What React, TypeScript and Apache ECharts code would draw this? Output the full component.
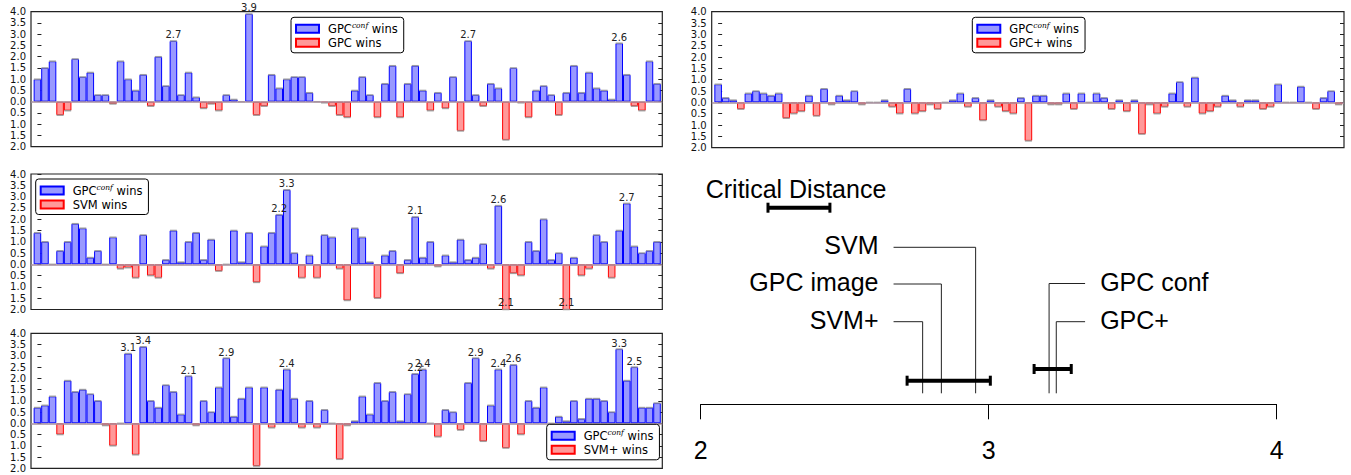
import React, { useEffect, useRef } from "react";
import * as echarts from "echarts";

// Per-dataset differences (positive: GPC^conf wins, negative: competitor wins)
const vsGPC = [1.0,1.5,1.8,-0.6,-0.4,1.9,1.1,1.3,0.3,0.3,-0.1,1.8,1.0,0.5,1.2,-0.2,2.0,0.7,2.7,0.3,1.3,0.2,-0.3,-0.1,-0.4,0.3,0.1,0,3.9,-0.6,-0.2,1.2,0.6,1.0,1.1,1.1,0.4,0,-0.05,-0.2,-0.6,-0.7,0.5,1.1,0.3,-0.7,0.8,1.6,-0.7,0.8,1.6,0.5,-0.4,0.4,-0.3,1.1,-1.3,2.7,0.3,-0.2,0.8,0.6,-1.7,1.5,-0.05,-0.7,0.5,0.7,0.3,-0.6,0.4,1.6,0.4,1.3,0.6,0.5,0.1,2.6,1.2,-0.2,-0.4,1.8,0.8];
const vsSVM = [1.4,1.0,0,0.6,1.0,1.8,1.6,0.3,0.6,0,1.2,-0.2,-0.15,-0.6,1.3,-0.5,-0.6,0.2,1.5,0.1,1.0,1.4,0.2,1.1,-0.3,0,1.5,0.1,1.4,-0.8,0.8,1.4,2.2,3.3,0.5,-0.6,0.4,-0.6,1.3,1.2,-0.2,-1.6,1.6,1.2,0.1,-1.5,0.4,0.6,-0.4,0.2,2.1,0.3,1.0,-0.1,0.4,0.1,1.1,0.2,0.3,0.9,-0.2,2.6,-2.1,-0.4,-0.5,1.0,0.6,2.0,0.2,0.5,-2.1,0.3,-0.5,-0.2,1.3,1.0,-0.6,1.5,2.7,0.8,0.5,0.6,1.0];
const vsSVMplus = [0.7,0.8,1.2,-0.5,1.9,1.4,1.5,1.3,1.0,-0.1,-1.0,0,3.1,-1.4,3.4,1.0,0.7,1.7,1.4,0.4,2.1,-0.1,1.0,0.5,1.6,2.9,0.3,1.1,1.6,-1.9,1.6,-0.2,1.5,2.4,1.1,-0.2,1.0,-0.2,0.6,0,-1.6,-0.1,0.1,1.2,0.4,1.8,1.0,1.4,0.1,1.3,2.2,2.4,0,-0.6,0.6,0.5,-0.3,1.8,2.9,-0.8,0.8,2.4,-1.1,2.6,-0.5,1.0,0.7,1.6,0,0.3,0.1,1.0,0.2,1.1,1.1,1.0,0.5,3.3,1.9,2.5,0.7,0.7,0.9];
const vsGPCplus = [0.8,0.2,0.1,-0.3,0.4,0.5,0.4,0.3,0.4,-0.7,-0.5,-0.4,0.3,-0.6,0.6,-0.1,0.3,0.1,0.5,-0.1,0,0,0.1,-0.2,-0.5,0.6,-0.5,-0.4,-0.1,-0.3,0,0.1,0.4,-0.2,0.2,-0.8,0.1,-0.2,-0.4,-0.5,0.2,-1.7,0.3,0.3,-0.1,-0.1,0.4,-0.3,0.4,0,0.4,0.2,-0.3,0.1,-0.4,0.1,-1.4,-0.1,-0.5,-0.2,0.4,0.9,-0.2,1.1,-0.5,-0.4,-0.2,0.3,0.1,-0.2,0.1,0.1,-0.3,-0.2,0.8,0,0,0.7,0,-0.3,0.2,0.5,-0.1];

const blueName = "GPCconf wins";
const redNames = ["GPC wins", "SVM wins", "SVM+ wins", "GPC+ wins"];
const yTicks = { min: -2, max: 4, step: 0.5 };

// Critical-difference diagram
const cdMethods = ["SVM", "GPC image", "SVM+", "GPC conf", "GPC+"];
const cdRanks = [2.955, 2.836, 2.771, 3.21, 3.235];
const cdSides = ["left", "left", "left", "right", "right"];
const cliques = [[2.717, 3.006], [3.158, 3.287]];
const criticalDistance = [2.234, 2.449];
const rankTicks = [2, 3, 4];

export default function App() {
  const ref = useRef<HTMLDivElement>(null);
  useEffect(() => {
    if (!ref.current) return;
    const chart = echarts.init(ref.current, null, { renderer: "svg" });
    const datasets = [vsGPC, vsSVM, vsSVMplus, vsGPCplus];
    const grids: any[] = [
      { left: 31, top: 11.7, width: 631.3, height: 135 },
      { left: 31, top: 174, width: 631.3, height: 135.5 },
      { left: 31, top: 333.3, width: 631.3, height: 135 },
      { left: 711.7, top: 11.7, width: 632.3, height: 136 },
    ].map((g) => ({ ...g, show: true, borderColor: "#222", borderWidth: 1.2, backgroundColor: "transparent" }));
    grids.push({ left: 700.6, top: 160, width: 576, height: 244.3, show: false });

    const xAxes: any[] = datasets.map((_, g) => ({
      type: "value", gridIndex: g, min: -0.85, max: 82.7, show: false,
    }));
    xAxes.push({
      type: "value", gridIndex: 4, min: rankTicks[0], max: rankTicks[rankTicks.length - 1], interval: 1,
      position: "bottom",
      axisLine: { show: true, onZero: false, lineStyle: { color: "#000", width: 1 } },
      axisTick: { show: true, inside: false, length: 15, lineStyle: { color: "#000", width: 1 } },
      axisLabel: { fontSize: 25, margin: 33, color: "#000", fontFamily: "Liberation Sans" },
      splitLine: { show: false },
    });

    const yAxes: any[] = [];
    datasets.forEach((_, g) => {
      const base = {
        type: "value", gridIndex: g, min: yTicks.min, max: yTicks.max, interval: yTicks.step,
        splitLine: { show: false },
        axisLine: { show: false },
        axisTick: { show: true, inside: true, length: 4, lineStyle: { color: "#222", width: 1 } },
      };
      yAxes.push({
        ...base, position: "left",
        axisLabel: {
          fontSize: 10, fontFamily: "DejaVu Sans", color: "#111", margin: 5,
          formatter: (v: number) => Math.abs(v).toFixed(1),
        },
      });
      yAxes.push({ ...base, position: "right", axisLabel: { show: false } });
    });
    yAxes.push({ type: "value", gridIndex: 4, min: 0, max: 244.3, inverse: true, show: false });

    const series: any[] = [];
    const labelBase = {
      fontSize: 10, fontFamily: "DejaVu Sans", color: "#222", distance: 1,
      formatter: (p: any) => Math.abs(p.value[1]).toFixed(1),
    };
    datasets.forEach((vals, g) => {
      const pos = vals.map((v, i) => ({ v, i })).filter((d) => d.v > 0)
        .map((d) => ({ value: [d.i, d.v], label: { show: d.v > 2 } }));
      const neg = vals.map((v, i) => ({ v, i })).filter((d) => d.v < 0)
        .map((d) => ({ value: [d.i, d.v], label: { show: d.v < -2 } }));
      series.push({
        type: "bar", name: blueName, xAxisIndex: g, yAxisIndex: 2 * g, data: pos,
        barGap: "-100%", barCategoryGap: "0%", silent: true,
        itemStyle: { color: "#9999ff", borderColor: "#0000ff", borderWidth: 1 },
        label: { ...labelBase, show: false, position: "top" },
        markLine: {
          silent: true, symbol: "none", label: { show: false },
          lineStyle: { color: "#a8909f", width: 1.5, type: "solid" },
          data: [{ yAxis: 0 }],
        },
      });
      series.push({
        type: "bar", name: redNames[g], xAxisIndex: g, yAxisIndex: 2 * g, data: neg,
        barGap: "-100%", barCategoryGap: "0%", silent: true,
        itemStyle: { color: "#ff9999", borderColor: "#ff0000", borderWidth: 1 },
        label: { ...labelBase, show: false, position: "insideBottom", distance: 3 },
      });
      series.push({
        type: "scatter", xAxisIndex: g, yAxisIndex: 2 * g, silent: true, z: 3,
        data: vals.map((v, i) => [i, Math.max(yTicks.min, v)]),
        symbol: "rect", symbolSize: [7, 1.5],
        itemStyle: { color: "#9a9a9a", opacity: 0.9 },
      });
    });

    // CD diagram lines
    const bottomY = 233.3;
    const levels = [87.3, 124, 161.7, 123.5, 161.7];
    const leftEnd = 2.67, rightEnd = 3.335;
    cdMethods.forEach((name, k) => {
      const isLeft = cdSides[k] === "left";
      series.push({
        type: "line", xAxisIndex: 4, yAxisIndex: 8, silent: true,
        showSymbol: true, symbol: "circle", symbolSize: 0.1,
        lineStyle: { color: "#222", width: 1 }, itemStyle: { color: "#222" },
        data: [
          {
            value: [isLeft ? leftEnd : rightEnd, levels[k]],
            label: {
              show: true, position: isLeft ? "left" : "right", distance: 15, offset: [0, -2],
              fontSize: 25, fontFamily: "Liberation Sans", color: "#000", formatter: name,
            },
          },
          [cdRanks[k], levels[k]],
          [cdRanks[k], bottomY],
        ],
      });
    });
    const thick = (a: number, b: number, y: number) => ({
      type: "line", xAxisIndex: 4, yAxisIndex: 8, silent: true,
      showSymbol: true, symbol: "rect", symbolSize: [3, 10],
      lineStyle: { color: "#000", width: 4 }, itemStyle: { color: "#000" },
      data: [[a, y], [b, y]],
    });
    series.push(thick(cliques[0][0], cliques[0][1], 220.7));
    series.push(thick(cliques[1][0], cliques[1][1], 209));
    series.push(thick(criticalDistance[0], criticalDistance[1], 47.7));

    const legendPos = [
      { left: 291, top: 17.3 },
      { left: 35.7, top: 179 },
      { left: 546.7, top: 424.3 },
      { left: 972.3, top: 17.3 },
    ];
    const legends = legendPos.map((p, g) => ({
      ...p, orient: "vertical", data: [blueName, redNames[g]], icon: "rect",
      itemWidth: 23, itemHeight: 8, itemGap: 2, padding: [4, 6, 4, 4],
      borderColor: "#000", borderWidth: 1, borderRadius: 3, backgroundColor: "#fff",
      selectedMode: false, z: 10,
      formatter: (n: string) => (n === blueName ? "{g|GPC}{s|conf}{t| wins}" : "{g|" + n + "}"),
      textStyle: {
        fontSize: 11.5, fontFamily: "DejaVu Sans", color: "#000",
        rich: {
          g: { fontSize: 11.5, fontFamily: "DejaVu Sans", color: "#000", padding: [0, 0, 0, 4] },
          t: { fontSize: 11.5, fontFamily: "DejaVu Sans", color: "#000" },
          s: { fontSize: 7.5, fontStyle: "italic", fontFamily: "DejaVu Serif", color: "#000", padding: [0, 0, 7, 0] },
        },
      },
    }));

    chart.setOption({
      animation: false,
      backgroundColor: "#fff",
      grid: grids,
      xAxis: xAxes,
      yAxis: yAxes,
      legend: legends,
      series,
      graphic: [
        {
          type: "text", left: 705.7, top: 176,
          style: { text: "Critical Distance", fontSize: 25, fontFamily: "Liberation Sans", fill: "#000" },
        },
      ],
    });
    return () => chart.dispose();
  }, []);
  return (
    <div ref={ref} style={{ position: "fixed", left: 0, top: 0, width: 1351, height: 475 }} />
  );
}
